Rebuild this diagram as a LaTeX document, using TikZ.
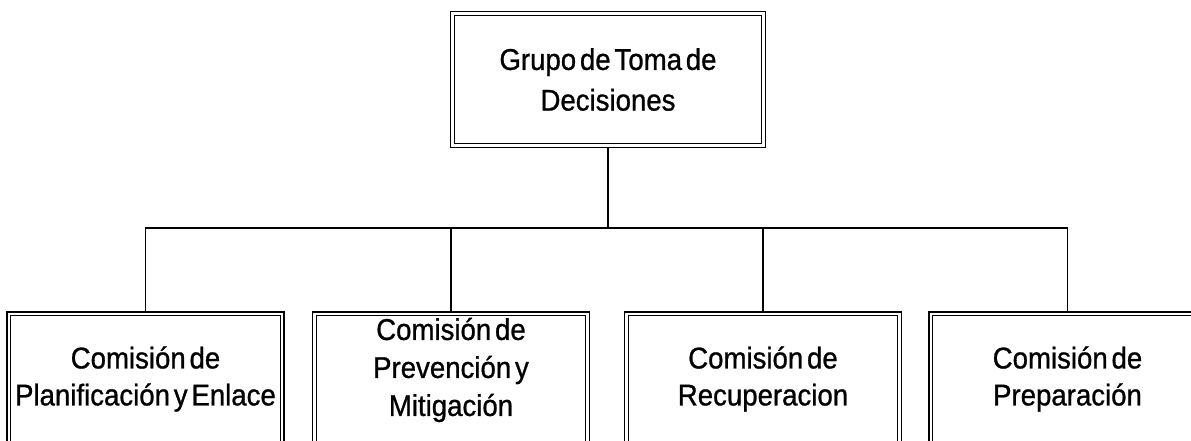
\documentclass[tikz,border=0pt]{standalone}
\usepackage{fontspec}
\setmainfont{Liberation Sans}[FakeStretch=0.92,WordSpace=0.5,FakeBold=0.9]
\usetikzlibrary{calc}
\begin{document}
\begin{tikzpicture}[x=0.75pt,y=-0.75pt,
  outerbox/.style={draw=black,line width=1.2pt,fill=white,inner sep=0pt,align=center},
  topbox/.style={outerbox,minimum width=236pt,minimum height=102pt,
     font=\fontsize{22.5}{30.5}\selectfont},
  subbox/.style={outerbox,minimum width=207.75pt,minimum height=100.5pt,
     font=\fontsize{22.5}{27.75}\selectfont},
  innerline/.style={draw=black,line width=0.7pt},
  conn/.style={draw=black,line width=1.1pt}]
\useasboundingbox (0,0) rectangle (1191,441);
\fill[white] (0,0) rectangle (1191,441);
\clip (0,0) rectangle (1191,441);

\node[topbox] (top) at (608,79.5) {Grupo de Toma de\\Decisiones};
\node[subbox] (b1) at (145.5,379) {Comisión de\\Planificación y Enlace};
\node[subbox] (b2) at (451,379) {};
\node[font=\fontsize{22.5}{28.5}\selectfont,align=center] (t2) at (451,370) {Comisión de\\Prevención y\\Mitigación};
\node[subbox] (b3) at (763,379) {Comisión de\\Recuperacion};
\node[subbox] (b4) at (1067.5,379) {Comisión de\\Preparación};

\foreach \n in {top,b1,b2,b3,b4}{
  \draw[innerline] ($(\n.north west)+(4.5,4.5)$) rectangle ($(\n.south east)+(-4.5,-4.5)$);
}

\coordinate (hub) at (608,228);
\draw[conn] (top.south) -- (hub);
\draw[conn] (b1.north) |- (b4.north |- hub) -- (b4.north);
\draw[conn] (b2.north) -- (b2.north |- hub);
\draw[conn] (b3.north) -- (b3.north |- hub);
\end{tikzpicture}
\end{document}
